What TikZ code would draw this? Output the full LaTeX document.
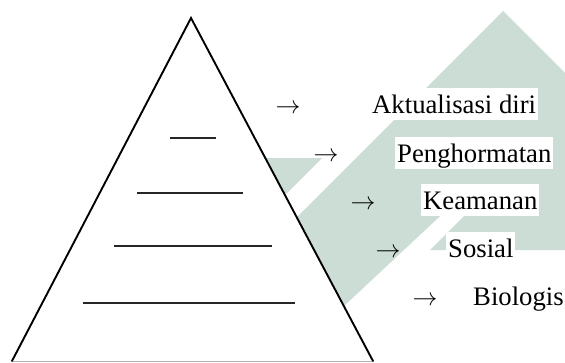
\documentclass[tikz,border=0pt]{standalone}
\usepackage{fontspec}
\setmainfont{Liberation Serif}
\begin{document}
\begin{tikzpicture}[x=1pt,y=-1pt,
  wmfill/.style={fill=wm},
  level/.style={draw=black!85,line width=1.2pt},
  side/.style={draw=black,line width=1.9pt,line cap=round},
  arrowglyph/.style={anchor=base west,inner sep=0pt,font=\fontsize{26.7}{32}\selectfont},
  label/.style={anchor=base west,inner xsep=2pt,inner ysep=0pt,text height=25pt,text depth=7pt,font=\fontsize{26.7}{32}\selectfont},
  boxed/.style={label,fill=white}]
\definecolor{wm}{RGB}{203,221,212}
\useasboundingbox (0,0) rectangle (565,362);
\fill[white] (0,0) rectangle (565,362);
% watermark
\fill[wmfill] (503,11) -- (565,73) -- (565,250) -- (430,250) -- (490,190) -- (468,190)
  -- (313,335) -- (179,335) -- cycle;
\fill[wmfill] (240,158) -- (322,158) -- (240,240) -- cycle;
% pyramid
\coordinate (apex) at (191,18);
\coordinate (bl) at (12,361);
\coordinate (br) at (373,361);
\fill[white] (apex) -- (bl) -- (br) -- cycle;
\draw[gray!60,line width=1pt] (bl) -- (br);
\draw[side] (bl) -- (apex) -- (br);
% levels
\coordinate (l1a) at (170,138); \coordinate (l1b) at (216,138);
\coordinate (l2a) at (137,193); \coordinate (l2b) at (243,193);
\coordinate (l3a) at (114,246); \coordinate (l3b) at (272,246);
\coordinate (l4a) at (83,303);  \coordinate (l4b) at (295,303);
\draw[level] (l1a) -- (l1b);
\draw[level] (l2a) -- (l2b);
\draw[level] (l3a) -- (l3b);
\draw[level] (l4a) -- (l4b);
% arrows
\node[arrowglyph] (a1) at (275.5,113) {$\rightarrow$};
\node[arrowglyph] (a2) at (313.5,161) {$\rightarrow$};
\node[arrowglyph] (a3) at (350.5,209) {$\rightarrow$};
\node[arrowglyph] (a4) at (375.5,257) {$\rightarrow$};
\node[arrowglyph] (a5) at (412.5,305) {$\rightarrow$};
% labels
\node[boxed] (t1) at (370,113) {Aktualisasi diri};
\node[boxed] (t2) at (395,162) {Penghormatan};
\node[boxed] (t3) at (421,209) {Keamanan};
\node[boxed] (t4) at (446,257) {Sosial};
\node[label] (t5) at (471,305) {Biologis};
\end{tikzpicture}
\end{document}
